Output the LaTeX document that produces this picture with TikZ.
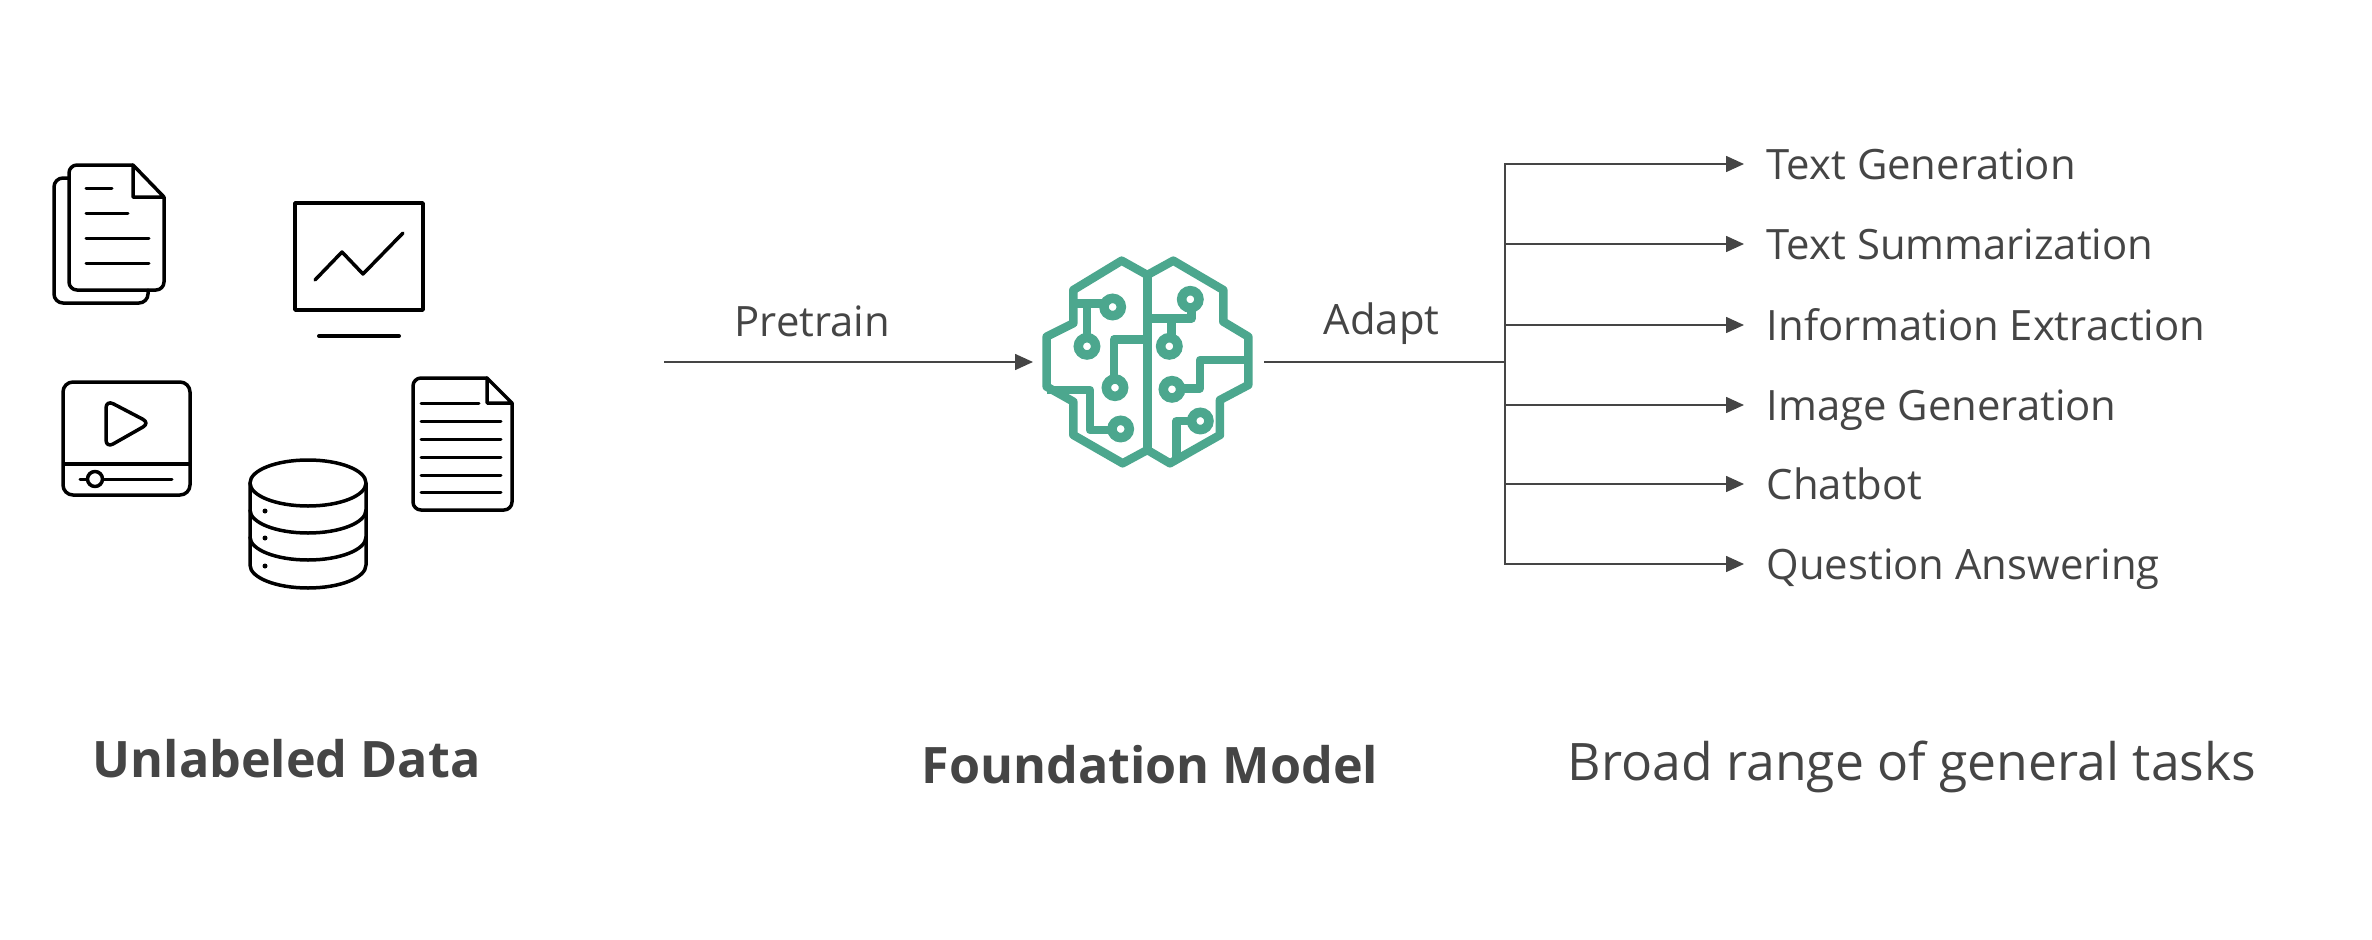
\documentclass[tikz,border=0pt]{standalone}
\usepackage{fontspec}
\setmainfont{Open Sans}
\usepackage{xcolor}
\usetikzlibrary{arrows.meta}
\definecolor{brainteal}{HTML}{4CA78E}
\definecolor{labelgrey}{HTML}{454545}
\tikzset{
	icon/.style={draw=black,line width=.35mm,line join=round,line cap=round},
	iconline/.style={draw=black,line width=.3mm,line cap=round},
	wire/.style={draw=brainteal,line width=.85mm,line join=round},
	ring/.style={draw=brainteal,line width=.95mm},
	flow/.style={draw=labelgrey,line width=.16mm},
	task/.style={anchor=west,text=labelgrey,inner xsep=2.2mm,inner ysep=0pt,text height=4mm,text depth=.86mm,font=\fontsize{11.9}{14}\selectfont},
	steplabel/.style={anchor=base west,text=labelgrey,inner sep=0pt,font=\fontsize{11.9}{14}\selectfont},
	heading/.style={anchor=base west,text=labelgrey,inner sep=0pt,font=\fontsize{14.7}{18}\selectfont},
	boldheading/.style={heading,font=\fontsize{14.3}{18}\selectfont\bfseries}
}
\begin{document}
\begin{tikzpicture}[>={Triangle[length=1.8mm,width=1.6mm]},x=.1mm,y=-.1mm]
	\useasboundingbox (0,0) rectangle (2372,940);

	% Stack of two documents
	\draw[icon,rounded corners=.9mm] (148,290) -- (148,303) -- (54,303) -- (54,178) -- (69,178);
	\draw[icon,rounded corners=.8mm] (133,165) -- (69,165) -- (69,290) -- (164,290) -- (164,197);
	\draw[icon] (133,165) -- (133,197) -- (164,197) -- cycle;
	\draw[iconline] (86,188) -- (112,188);
	\draw[iconline] (86,213) -- (128,213);
	\draw[iconline] (86,238) -- (149,238);
	\draw[iconline] (86,263) -- (149,263);

	% Monitor with chart
	\draw[icon] (295,203) rectangle (423,310);
	\draw[icon] (315,280) -- (342,252) -- (363,274) -- (403,233);
	\draw[icon,line width=.4mm] (319,336) -- (399,336);

	% Video player
	\draw[icon,rounded corners=1mm] (63,382) rectangle (190,495);
	\draw[icon,line cap=butt] (63,464) -- (190,464);
	\draw[iconline] (80,479) -- (172,479);
	\draw[icon,fill=white] (95,479) circle (7.5);
	\draw[icon,rounded corners=.8mm] (106,400) -- (150,423) -- (106,448) -- cycle;

	% Database
	\draw[icon] (308,483) ellipse (58 and 23);
	\draw[icon] (250,483) -- (250,565) arc[start angle=180,end angle=0,x radius=58,y radius=23] -- (366,483);
	\draw[icon] (250,510) arc[start angle=180,end angle=0,x radius=58,y radius=23];
	\draw[icon] (250,537) arc[start angle=180,end angle=0,x radius=58,y radius=23];
	\fill (265,511) circle (2.5);
	\fill (265,538) circle (2.5);
	\fill (265,566) circle (2.5);

	% Single document
	\draw[icon,rounded corners=.8mm] (487,378) -- (413,378) -- (413,510) -- (512,510) -- (512,403);
	\draw[icon] (487,378) -- (487,403) -- (512,403) -- cycle;
	\draw[iconline] (421,403) -- (479,403);
	\draw[iconline] (421,421) -- (501,421);
	\draw[iconline] (421,439) -- (501,439);
	\draw[iconline] (421,457) -- (501,457);
	\draw[iconline] (421,475) -- (501,475);
	\draw[iconline] (421,492) -- (501,492);

	% Brain, written in thirds of a pixel
	\begin{scope}[shift={(1000,220)},scale=.3333]
		\draw[wire] (442,165) -- (365,122) -- (220,210) -- (220,310) -- (140,350) -- (140,500) -- (220,545)
			-- (220,645) -- (368,730) -- (442,690) -- (510,730) -- (660,645) -- (660,540) -- (745,495)
			-- (745,350) -- (670,305) -- (670,210) -- (520,122) -- cycle;
		\draw[wire] (442,165) -- (442,690);
		% left half
		\draw[wire] (220,250) -- (310,250);
		\draw[wire] (261,250) -- (261,350);
		\draw[wire] (442,358) -- (342,358) -- (342,475);
		\draw[wire] (140,510) -- (270,510) -- (270,630) -- (335,630);
		\draw[ring] (338,261) circle (26);
		\draw[ring] (261,379) circle (26);
		\draw[ring] (345,503) circle (26);
		\draw[ring] (362,627) circle (26);
		% right half
		\draw[wire] (442,295) -- (575,295) -- (575,265);
		\draw[wire] (515,295) -- (515,350);
		\draw[wire] (745,420) -- (600,420) -- (600,505) -- (545,505);
		\draw[wire] (530,715) -- (530,603) -- (575,603);
		\draw[ring] (571,238) circle (26);
		\draw[ring] (508,379) circle (26);
		\draw[ring] (516,508) circle (26);
		\draw[ring] (601,603) circle (26);
	\end{scope}

	% Arrow into the brain
	\coordinate (datain) at (664,362);
	\coordinate (brainin) at (1033,362);
	\draw[flow,->] (datain) -- (brainin);
	\node[steplabel] (pretrain) at (734,336) {Pretrain};

	% Line out of the brain
	\coordinate (brainout) at (1264,362);
	\coordinate (trunk) at (1505,362);
	\draw[flow,line width=.25mm] (brainout) -- (trunk);
	\node[steplabel] (adapt) at (1323,334) {Adapt};

	% Tasks
	\node[task] (textgen) at (1744,164) {Text Generation};
	\node[task] (textsum) at (1744,244) {Text Summarization};
	\node[task] (infoext) at (1744,325) {Information Extraction};
	\node[task] (imagegen) at (1744,405) {Image Generation};
	\node[task] (chatbot) at (1744,484) {Chatbot};
	\node[task] (question) at (1744,564) {Question Answering};

	% Branches to the tasks
	\draw[flow,->] (trunk) |- (textgen.west);
	\draw[flow,->] (trunk) |- (textsum.west);
	\draw[flow,->] (trunk) |- (infoext.west);
	\draw[flow,->] (trunk) |- (imagegen.west);
	\draw[flow,->] (trunk) |- (chatbot.west);
	\draw[flow,->] (trunk) |- (question.west);

	% Titles
	\node[boldheading] (unlabeled) at (92,777) {Unlabeled Data};
	\node[boldheading] (foundation) at (921,783) {Foundation Model};
	\node[heading] (broad) at (1567,780) {Broad range of general tasks};
\end{tikzpicture}
\end{document}
